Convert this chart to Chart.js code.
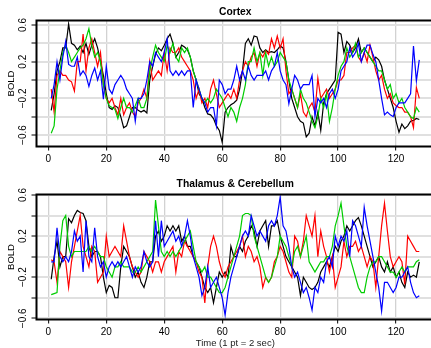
<!DOCTYPE html>
<html><head><meta charset="utf-8">
<script src="https://cdn.jsdelivr.net/npm/chart.js@4"></script>
<style>
html,body{margin:0;padding:0;background:#fff;overflow:hidden;width:431px;height:348px;}
#c1{position:absolute;left:0;top:0;width:436px;height:170px;}
#c2{position:absolute;left:0;top:170px;width:436px;height:178px;}
</style></head><body>
<canvas id="c1" width="436" height="170"></canvas>
<canvas id="c2" width="436" height="178"></canvas>
<script>
// ---- data ----
const panelTitles = ['Cortex', 'Thalamus & Cerebellum'];
const xAxisTitle = 'Time (1 pt = 2 sec)';
const yAxisTitle = 'BOLD';
const xTickValues = [0, 20, 40, 60, 80, 100, 120];
const yGridValues = [-0.6, -0.4, -0.2, 0, 0.2, 0.4, 0.6];
const yLabelValues = [0.6, 0.2, -0.2, -0.6];
const seriesColors = ['#000000', '#ff0000', '#00cd00', '#0000ff'];

const cortexBlack = [
-0.33,-0.15,0.10,0.20,0.35,0.35,0.61,0.40,0.38,0.33,
0.37,0.30,0.40,0.28,0.38,0.45,0.35,0.20,0.05,-0.15,
-0.30,-0.32,-0.28,-0.30,-0.40,-0.52,-0.50,-0.40,-0.30,-0.30,
-0.33,-0.35,-0.33,-0.36,0.00,0.15,0.28,0.35,0.32,0.38,
0.45,0.50,0.40,0.25,0.30,0.38,0.36,0.33,0.25,0.10,
0.00,-0.15,-0.20,-0.30,-0.37,-0.38,-0.42,-0.50,-0.55,-0.68,
-0.35,-0.30,-0.27,-0.25,-0.22,-0.10,0.10,0.40,0.45,0.38,
0.48,0.47,0.35,0.30,0.33,0.30,0.31,0.30,0.33,0.37,
0.35,0.20,0.00,-0.20,-0.30,-0.40,-0.45,-0.47,-0.62,-0.58,
-0.40,-0.50,-0.35,-0.55,-0.25,-0.15,-0.10,-0.05,0.00,0.52,
0.50,0.30,0.42,0.38,0.30,0.35,0.45,0.30,0.35,0.30,
0.25,0.20,0.25,0.22,0.15,0.00,-0.10,-0.20,-0.30,-0.45,
-0.57,-0.48,-0.53,-0.50,-0.45,-0.44,-0.42,-0.43];
const cortexRed = [
-0.10,-0.35,0.05,0.10,0.05,0.05,0.00,-0.02,-0.12,0.20,
0.20,0.50,0.10,0.35,0.45,0.30,0.15,0.30,-0.05,-0.20,
-0.25,-0.20,-0.30,-0.38,-0.20,-0.38,-0.30,-0.25,-0.35,-0.40,
-0.25,-0.20,-0.10,-0.20,0.20,0.00,0.05,0.10,0.05,0.30,
0.10,0.35,0.30,0.30,0.35,0.25,0.20,0.15,0.10,0.00,
-0.20,-0.10,-0.25,-0.20,-0.30,-0.10,0.00,-0.15,-0.30,-0.25,
-0.20,-0.15,-0.20,-0.10,-0.20,0.00,0.10,0.20,0.15,0.25,
0.30,0.15,0.30,0.25,0.32,0.28,0.45,0.35,0.48,0.35,
0.45,0.10,-0.15,-0.10,-0.20,-0.30,-0.15,-0.35,-0.40,-0.30,
-0.25,-0.35,0.02,-0.20,-0.15,-0.10,-0.20,-0.15,-0.10,0.00,
0.00,0.05,0.30,0.30,0.35,0.38,0.25,0.20,0.30,0.20,
0.38,0.25,0.10,0.00,0.05,-0.10,-0.20,-0.15,-0.25,-0.28,
-0.30,-0.30,-0.35,-0.35,-0.40,-0.52,-0.08,-0.20];
const cortexGreen = [
-0.58,-0.50,-0.10,0.10,0.30,0.38,0.30,0.20,0.25,0.30,
0.35,0.38,0.45,0.56,0.38,0.25,0.30,0.20,-0.05,-0.20,
-0.28,-0.30,-0.32,-0.42,-0.30,-0.20,-0.30,-0.30,-0.35,-0.28,
-0.20,-0.30,-0.30,-0.20,0.10,0.25,0.38,0.30,0.25,0.20,
0.38,0.30,0.40,0.25,0.20,0.35,0.30,0.35,0.25,0.10,
0.00,-0.10,-0.20,-0.25,-0.20,-0.25,-0.20,-0.10,-0.15,-0.20,
-0.30,-0.40,-0.30,-0.35,-0.45,-0.30,-0.20,-0.05,0.20,0.20,
0.35,0.20,0.30,0.05,0.30,0.15,0.25,0.15,0.20,0.30,
0.25,0.20,0.00,-0.10,-0.20,-0.30,-0.10,-0.20,-0.25,-0.35,
-0.45,-0.52,-0.40,-0.20,-0.30,-0.15,-0.45,-0.30,-0.10,0.05,
0.15,0.20,0.35,0.25,0.30,0.40,0.25,0.30,0.35,0.30,
0.25,0.20,0.15,0.10,0.10,0.00,-0.10,-0.05,-0.20,-0.15,
-0.25,-0.20,-0.30,-0.35,-0.40,-0.42,-0.30,-0.35];
const cortexBlue = [
-0.20,-0.05,0.20,0.00,0.25,0.42,0.17,0.15,0.15,0.25,
0.05,0.10,0.05,-0.07,0.05,0.13,0.00,0.10,-0.21,0.15,
-0.10,-0.15,-0.05,0.00,0.05,0.00,-0.10,-0.15,-0.20,-0.45,
-0.20,-0.20,-0.15,0.00,0.20,0.15,0.30,0.25,0.20,0.30,
0.45,0.10,0.05,0.10,0.05,0.10,0.05,0.10,0.10,-0.30,
0.00,-0.10,-0.20,-0.25,-0.35,-0.30,-0.30,-0.50,0.00,-0.05,
-0.15,-0.10,-0.10,0.00,0.15,0.00,0.10,0.00,0.15,0.05,
0.00,0.05,0.05,0.05,0.10,0.00,0.10,0.15,0.30,0.10,
0.00,-0.05,-0.26,-0.10,0.05,0.00,-0.10,-0.05,-0.05,-0.05,
0.05,-0.40,-0.20,-0.25,-0.20,-0.30,-0.15,-0.10,-0.20,-0.10,
0.10,0.15,0.20,0.35,0.25,0.30,0.40,0.20,0.30,0.38,
0.38,0.28,0.20,0.00,-0.20,-0.38,-0.35,-0.38,-0.40,-0.30,
-0.25,-0.25,-0.25,-0.20,-0.15,0.37,-0.01,0.22];

const thalBlack = [
-0.22,0.00,0.15,-0.10,0.00,0.00,0.37,0.33,0.40,0.45,
0.43,0.42,0.35,0.10,0.00,0.05,0.05,0.00,-0.20,-0.35,
-0.28,-0.30,-0.40,-0.40,-0.10,0.10,0.05,0.00,-0.10,-0.20,
-0.15,-0.25,-0.30,-0.20,-0.05,-0.05,0.20,0.25,0.15,0.20,
0.30,0.25,0.30,0.25,0.30,0.15,0.20,0.10,0.10,0.00,
-0.05,-0.10,-0.20,-0.30,-0.35,-0.30,-0.45,-0.30,-0.15,-0.20,
-0.15,-0.20,0.10,0.00,0.00,0.10,0.05,0.15,0.20,0.30,
0.25,0.10,0.25,0.30,0.35,0.10,0.30,0.30,0.35,0.20,
0.10,0.00,-0.05,-0.10,-0.15,-0.20,-0.38,-0.20,-0.25,-0.30,
-0.32,-0.30,-0.25,-0.15,-0.10,-0.05,-0.10,0.00,0.10,0.05,
0.15,0.20,0.30,0.25,0.30,0.35,0.38,0.30,0.20,0.10,
0.00,-0.10,-0.05,0.00,-0.10,-0.15,-0.05,-0.15,-0.10,-0.20,
-0.15,-0.25,-0.30,-0.15,-0.20,-0.18,-0.20,-0.05];
const thalRed = [
-0.03,-0.05,-0.25,0.05,0.00,-0.05,-0.30,-0.05,0.10,0.25,
0.40,0.10,0.00,-0.10,0.10,0.05,-0.25,-0.20,-0.15,0.20,
0.00,0.05,0.10,0.05,0.00,0.30,0.15,0.00,-0.10,-0.15,
-0.20,-0.15,0.05,0.00,-0.05,-0.15,-0.05,-0.05,-0.15,-0.05,
0.00,0.05,0.10,-0.15,0.05,0.00,0.15,0.10,0.05,0.00,
-0.05,-0.15,-0.20,-0.45,-0.10,0.10,0.20,0.10,-0.05,-0.15,
-0.20,-0.10,-0.05,0.00,0.05,0.10,0.20,0.00,0.10,0.05,
-0.05,0.00,-0.10,-0.30,-0.20,-0.25,-0.20,-0.05,0.00,0.10,
0.05,-0.05,-0.15,-0.20,0.20,0.15,0.00,0.15,0.40,0.30,
0.20,0.40,0.00,0.25,0.10,0.00,-0.15,0.00,-0.30,-0.20,
-0.10,0.15,0.00,0.10,0.10,0.15,0.05,0.10,0.00,-0.10,
0.00,-0.05,-0.30,0.00,0.30,0.52,0.25,0.00,-0.10,-0.05,
0.00,-0.05,-0.27,0.20,0.15,0.10,0.05,0.05];
const thalGreen = [
-0.37,-0.36,-0.35,0.10,0.35,0.40,0.10,0.00,0.05,0.05,
0.05,0.05,0.05,0.10,0.05,0.10,0.05,0.00,0.00,-0.10,
-0.15,-0.20,-0.10,-0.10,-0.05,-0.10,-0.10,-0.10,-0.15,-0.15,
-0.10,-0.15,-0.10,-0.05,0.00,0.05,0.55,0.30,0.05,0.00,
0.05,0.00,0.05,0.00,0.05,0.10,0.15,0.20,0.25,0.10,
-0.05,-0.10,-0.15,-0.10,-0.20,-0.20,-0.25,-0.30,-0.35,-0.35,
-0.30,-0.20,-0.10,0.00,0.10,0.20,0.40,0.42,0.42,0.40,
0.20,0.10,0.00,-0.10,-0.20,-0.25,-0.20,-0.10,0.00,0.20,
0.15,0.10,0.00,-0.10,0.05,0.10,0.00,0.10,0.20,-0.05,
-0.10,-0.15,-0.10,-0.05,-0.05,0.00,0.00,0.10,0.30,0.40,
0.52,0.30,0.10,0.00,-0.10,-0.20,-0.30,-0.35,-0.35,-0.20,
-0.10,-0.05,-0.05,0.00,0.00,-0.05,-0.10,-0.15,-0.15,-0.20,
-0.15,-0.10,-0.15,-0.10,-0.10,-0.10,-0.05,-0.03];
const thalBlue = [
-0.05,-0.05,0.28,0.00,-0.05,0.00,-0.05,0.05,0.25,0.15,
0.20,-0.15,0.35,0.00,-0.05,0.28,0.00,-0.10,-0.05,-0.20,
-0.10,-0.05,-0.10,-0.05,-0.10,-0.05,0.00,-0.10,-0.20,-0.10,
-0.15,-0.10,0.05,-0.05,-0.10,-0.05,0.35,0.00,0.35,0.10,
0.15,0.20,0.25,0.15,0.20,0.10,0.20,0.35,0.20,0.00,
-0.10,-0.20,-0.38,-0.30,-0.10,-0.30,-0.25,-0.20,-0.30,-0.40,
-0.57,-0.35,-0.20,-0.10,0.00,0.10,0.20,0.25,0.20,0.40,
0.30,0.20,0.25,0.20,0.15,0.30,0.35,0.30,0.40,0.58,
0.30,0.25,0.10,-0.10,-0.20,-0.15,-0.25,-0.35,-0.30,-0.40,
-0.52,-0.30,-0.35,-0.20,-0.25,-0.05,0.00,-0.10,0.20,0.10,
0.20,0.15,0.25,0.00,0.35,0.30,0.20,0.10,0.48,0.30,
0.15,0.00,-0.15,-0.30,-0.53,-0.25,-0.25,-0.30,-0.35,-0.30,
-0.20,-0.20,-0.15,-0.10,-0.25,-0.35,-0.40,-0.38];

// ---- rendering ----
const FONT = '"Liberation Sans", Arial, Helvetica, sans-serif';
Chart.defaults.font.family = FONT;
Chart.defaults.color = '#000';

function fmt(v) { return (v < 0 ? '\u2212' : '') + Math.abs(v).toFixed(1); }

const framePlugin = {
  id: 'frame',
  afterDraw(chart) {
    const { ctx, chartArea: a } = chart;
    ctx.save();
    ctx.strokeStyle = '#000';
    ctx.lineWidth = 2;
    ctx.strokeRect(a.left, a.top, a.right - a.left, a.bottom - a.top);
    ctx.restore();
  }
};
const yLabelPlugin = {
  id: 'ylabels',
  afterDraw(chart) {
    const s = chart.scales.y, ctx = chart.ctx;
    ctx.save();
    ctx.font = '10px ' + FONT;
    ctx.fillStyle = '#000';
    ctx.textAlign = 'center';
    ctx.textBaseline = 'middle';
    yLabelValues.forEach(v => {
      const y = s.getPixelForValue(v);
      ctx.save();
      ctx.translate(23.5, y);
      ctx.rotate(-Math.PI / 2);
      ctx.fillText(fmt(v), 0, 0);
      ctx.restore();
    });
    ctx.restore();
  }
};

function makePanel(canvasId, title, seriesList, yMin, yMax, cfg) {
  const datasets = seriesList.map((vals, k) => ({
    data: vals.map((v, i) => ({ x: i + 1, y: v })),
    borderColor: seriesColors[k],
    borderWidth: 1.2,
    pointRadius: 0,
    tension: 0,
    fill: false,
    order: seriesList.length - k
  }));
  return new Chart(document.getElementById(canvasId), {
    type: 'line',
    data: { datasets },
    options: {
      responsive: false,
      animation: false,
      layout: { padding: { left: 0, right: 2, top: 0, bottom: 0 } },
      plugins: {
        legend: { display: false },
        tooltip: { enabled: false },
        title: {
          display: true, text: title, fullSize: false,
          font: { size: 10.3, weight: 'bold', lineHeight: 1.2 },
          color: '#000',
          padding: { top: cfg.titleTop, bottom: cfg.titleBottom }
        }
      },
      scales: {
        x: {
          type: 'linear', min: -4.08, max: 133.08,
          afterBuildTicks: s => { s.ticks = xTickValues.map(v => ({ value: v })); },
          afterFit: s => { s.height = cfg.xHeight; },
          ticks: { font: { size: 10 }, color: '#000', padding: 2.5, maxRotation: 0, autoSkip: false, callback: v => String(v) },
          grid: { color: '#d2d2d2', lineWidth: 1.3, tickColor: '#000', tickLength: 4, tickWidth: 1 },
          border: { display: false },
          title: cfg.xTitle ? { display: true, text: xAxisTitle, color: '#222', font: { size: 9.5, lineHeight: 1 }, padding: { top: 0, bottom: 0.3 } } : { display: false }
        },
        y: {
          type: 'linear', min: yMin, max: yMax,
          afterBuildTicks: s => { s.ticks = yGridValues.map(v => ({ value: v })); },
          afterFit: s => { s.width = 36.5; },
          ticks: { display: false },
          grid: { color: '#e0e0e0', lineWidth: 2, tickColor: '#000', tickLength: 5, tickWidth: 1 },
          border: { display: false },
          title: { display: true, text: yAxisTitle, color: '#000', font: { size: 9.5, lineHeight: 1.2 }, padding: { top: 6, bottom: 0 } }
        }
      }
    },
    plugins: [framePlugin, yLabelPlugin]
  });
}

makePanel('c1', panelTitles[0], [cortexBlack, cortexRed, cortexGreen, cortexBlue], -0.725, 0.649,
  { titleTop: 5.5, titleBottom: 2.64, xHeight: 23.5, xTitle: false });
makePanel('c2', panelTitles[1], [thalBlack, thalRed, thalGreen, thalBlue], -0.612, 0.605,
  { titleTop: 8.1, titleBottom: 4.04, xHeight: 28.5, xTitle: true });
</script>
</body></html>
